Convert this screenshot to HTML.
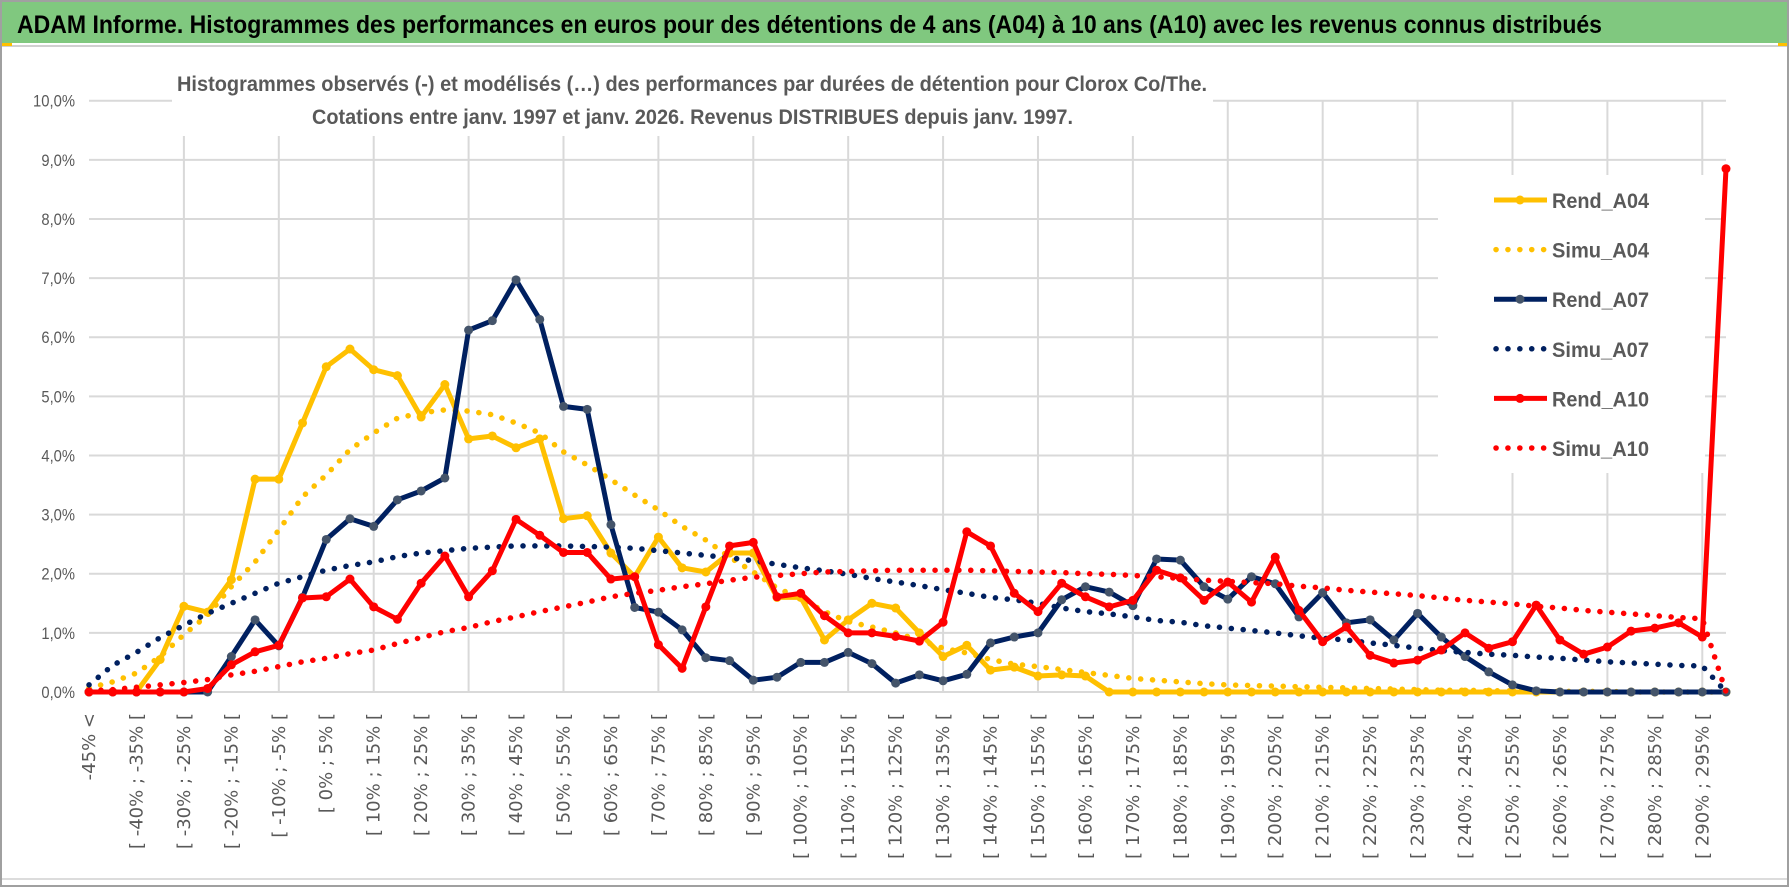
<!DOCTYPE html>
<html><head><meta charset="utf-8"><title>ADAM Informe - Clorox</title>
<style>
html,body{margin:0;padding:0;background:#fff;}
svg{display:block;font-family:"Liberation Sans",sans-serif;}
</style></head>
<body>
<svg id="chart" width="1790" height="888" viewBox="0 0 1790 888" xmlns="http://www.w3.org/2000/svg">
  <rect x="0" y="0" width="1790" height="888" fill="#ffffff"/>
  <rect x="1" y="1" width="1787" height="885" fill="none" stroke="#a0a0a0" stroke-width="2"/>
  <rect x="2" y="2" width="1785" height="41" fill="#80c87f"/>
  <line x1="2" y1="46" x2="1787" y2="46" stroke="#d0d0d0" stroke-width="2"/>
  <rect x="2" y="43" width="10" height="3" fill="#ffc000"/>
  <rect x="1778" y="43" width="9" height="3" fill="#ffc000"/>
  <line x1="2" y1="879" x2="1787" y2="879" stroke="#dcdcdc" stroke-width="2"/>
  <text x="17" y="33" font-size="25" font-weight="bold" fill="#000" textLength="1585" lengthAdjust="spacingAndGlyphs">ADAM Informe. Histogrammes des performances en euros pour des détentions de 4 ans (A04) à 10 ans (A10) avec les revenus connus distribués</text>
  <g id="grid"></g>
  <rect x="172" y="60" width="1041" height="76" fill="#fff"/>
  <text x="177" y="91" font-size="21" font-weight="bold" fill="#595959" textLength="1030" lengthAdjust="spacingAndGlyphs">Histogrammes observés (-) et modélisés (…) des performances par durées de détention pour Clorox Co/The.</text>
  <text x="312" y="124" font-size="21" font-weight="bold" fill="#595959" textLength="761" lengthAdjust="spacingAndGlyphs">Cotations entre janv. 1997 et janv. 2026. Revenus DISTRIBUES depuis janv. 1997.</text>
  <g id="yaxis"></g>
  <g id="xaxis"></g>
  <rect x="1438" y="175" width="267" height="298" fill="#fff"/>
  <g id="series"></g>
  <g id="legend"></g>
</svg>
<script>
const categories = ["-45% <","[ -45% ; -40% [","[ -40% ; -35% [","[ -35% ; -30% [","[ -30% ; -25% [","[ -25% ; -20% [","[ -20% ; -15% [","[ -15% ; -10% [","[ -10% ; -5% [","[ -5% ; 0% [",
"[ 0% ; 5% [","[ 5% ; 10% [","[ 10% ; 15% [","[ 15% ; 20% [","[ 20% ; 25% [","[ 25% ; 30% [","[ 30% ; 35% [","[ 35% ; 40% [","[ 40% ; 45% [","[ 45% ; 50% [",
"[ 50% ; 55% [","[ 55% ; 60% [","[ 60% ; 65% [","[ 65% ; 70% [","[ 70% ; 75% [","[ 75% ; 80% [","[ 80% ; 85% [","[ 85% ; 90% [","[ 90% ; 95% [","[ 95% ; 100% [",
"[ 100% ; 105% [","[ 105% ; 110% [","[ 110% ; 115% [","[ 115% ; 120% [","[ 120% ; 125% [","[ 125% ; 130% [","[ 130% ; 135% [","[ 135% ; 140% [","[ 140% ; 145% [","[ 145% ; 150% [",
"[ 150% ; 155% [","[ 155% ; 160% [","[ 160% ; 165% [","[ 165% ; 170% [","[ 170% ; 175% [","[ 175% ; 180% [","[ 180% ; 185% [","[ 185% ; 190% [","[ 190% ; 195% [","[ 195% ; 200% [",
"[ 200% ; 205% [","[ 205% ; 210% [","[ 210% ; 215% [","[ 215% ; 220% [","[ 220% ; 225% [","[ 225% ; 230% [","[ 230% ; 235% [","[ 235% ; 240% [","[ 240% ; 245% [","[ 245% ; 250% [",
"[ 250% ; 255% [","[ 255% ; 260% [","[ 260% ; 265% [","[ 265% ; 270% [","[ 270% ; 275% [","[ 275% ; 280% [","[ 280% ; 285% [","[ 285% ; 290% [","[ 290% ; 295% [","[ 295% ; 300% ["];
const yTicks = [0,1,2,3,4,5,6,7,8,9,10];
const yTickLabels = ["0,0%","1,0%","2,0%","3,0%","4,0%","5,0%","6,0%","7,0%","8,0%","9,0%","10,0%"];
const rendA04 = [0,0,0,0.55,1.45,1.35,1.9,3.6,3.6,4.55,5.5,5.8,5.45,5.35,4.65,5.2,4.28,4.33,4.13,4.28,2.93,2.98,2.35,1.95,2.62,2.1,2.03,2.35,2.35,1.6,1.6,0.88,1.22,1.5,1.42,1.0,0.6,0.79,0.37,0.42,0.27,0.29,0.27,0,0,0,0,0,0,0,0,0,0,0,0,0,0,0,0,0,0,0,0,0,0,0,0,0,0,0];
const simuA04 = [0.07,0.17,0.32,0.6,0.97,1.3,1.78,2.2,2.74,3.3,3.67,4.1,4.38,4.63,4.72,4.77,4.75,4.69,4.55,4.38,4.06,3.84,3.59,3.33,3.08,2.8,2.57,2.28,2.03,1.76,1.58,1.36,1.19,1.1,1.0,0.88,0.74,0.66,0.55,0.47,0.43,0.38,0.33,0.28,0.23,0.2,0.17,0.14,0.12,0.11,0.1,0.09,0.08,0.07,0.06,0.05,0.04,0.03,0.03,0.02,0.02,0.01,0.01,0.01,0.01,0,0,0,0,0];
const rendA07 = [0,0,0,0,0,0,0.6,1.22,0.78,1.6,2.58,2.93,2.8,3.25,3.4,3.62,6.12,6.28,6.97,6.3,4.83,4.78,2.83,1.43,1.35,1.05,0.58,0.53,0.2,0.25,0.5,0.5,0.67,0.48,0.15,0.29,0.19,0.3,0.83,0.93,1.0,1.56,1.78,1.69,1.46,2.25,2.23,1.78,1.57,1.95,1.83,1.27,1.68,1.17,1.22,0.88,1.33,0.93,0.6,0.34,0.12,0.02,0,0,0,0,0,0,0,0];
const simuA07 = [0.12,0.45,0.67,0.92,1.13,1.33,1.5,1.67,1.84,1.95,2.06,2.14,2.2,2.29,2.35,2.39,2.43,2.45,2.47,2.47,2.47,2.46,2.45,2.43,2.39,2.35,2.31,2.27,2.22,2.16,2.1,2.05,1.99,1.92,1.86,1.8,1.73,1.67,1.6,1.56,1.5,1.42,1.36,1.32,1.27,1.21,1.18,1.12,1.08,1.04,1.0,0.95,0.91,0.88,0.83,0.79,0.74,0.7,0.67,0.64,0.62,0.59,0.57,0.54,0.51,0.49,0.47,0.45,0.44,0];
const rendA10 = [0,0,0,0,0,0.06,0.46,0.68,0.79,1.59,1.61,1.91,1.44,1.23,1.84,2.3,1.61,2.05,2.92,2.65,2.36,2.36,1.91,1.95,0.8,0.4,1.44,2.47,2.53,1.61,1.67,1.29,1.0,1.0,0.94,0.86,1.18,2.71,2.47,1.67,1.36,1.84,1.61,1.44,1.55,2.06,1.93,1.55,1.86,1.52,2.28,1.38,0.85,1.1,0.62,0.49,0.54,0.71,1.0,0.74,0.85,1.47,0.88,0.64,0.76,1.03,1.08,1.17,0.93,8.85];
const simuA10 = [0.02,0.04,0.08,0.12,0.16,0.21,0.29,0.35,0.43,0.51,0.57,0.65,0.71,0.82,0.92,1.02,1.09,1.19,1.27,1.36,1.44,1.52,1.61,1.67,1.72,1.78,1.83,1.89,1.94,1.97,2.0,2.03,2.04,2.05,2.06,2.06,2.06,2.06,2.05,2.04,2.03,2.02,2.0,1.99,1.97,1.95,1.92,1.89,1.87,1.85,1.83,1.79,1.76,1.72,1.69,1.66,1.63,1.59,1.55,1.52,1.49,1.45,1.42,1.38,1.35,1.32,1.29,1.26,1.24,0];
const seriesNames = ["Rend_A04","Simu_A04","Rend_A07","Simu_A07","Rend_A10","Simu_A10"];

const NS = "http://www.w3.org/2000/svg";
const X0 = 89, X1 = 1726, Y0 = 692, YTOP = 100.7, YMAX = 10;
function xPos(i){ return X0 + i * (X1 - X0) / (categories.length - 1); }
function yPos(v){ return Y0 - v * (Y0 - YTOP) / YMAX; }
function mk(tag, attrs, parent){ const e = document.createElementNS(NS, tag); for (const k in attrs) e.setAttribute(k, attrs[k]); parent.appendChild(e); return e; }

const grid = document.getElementById('grid');
yTicks.forEach(function(t){
  if (t === 0) return;
  const l = mk('line', {x1: X0, x2: X1, y1: yPos(t), y2: yPos(t), stroke: '#d9d9d9', 'stroke-width': 2}, grid);
  
  
});
for (let i = 4; i < categories.length; i += 4) {
  const l = mk('line', {x1: xPos(i), x2: xPos(i), y1: YTOP, y2: Y0, stroke: '#d9d9d9', 'stroke-width': 2}, grid);
  
  
}
const base = mk('line', {x1: X0, x2: X1, y1: Y0, y2: Y0, stroke: '#d9d9d9', 'stroke-width': 2}, grid);



const yax = document.getElementById('yaxis');
yTicks.forEach(function(t, k){
  const lab = yTickLabels[k];
  const tx = mk('text', {x: 75, y: yPos(t) + 6, 'font-size': 17, fill: '#595959', 'text-anchor': 'end', textLength: lab.length * 8.4, lengthAdjust: 'spacingAndGlyphs'}, yax);
  tx.textContent = lab;
  
  
});

const xax = document.getElementById('xaxis');
categories.forEach(function(c, i){
  if (i % 2 !== 0) return;
  const x = xPos(i) + 6;
  const tx = mk('text', {x: x, y: 713, 'font-size': 18, fill: '#595959', 'text-anchor': 'end', 'font-family': '"DejaVu Sans", sans-serif', transform: 'rotate(-90 ' + x + ' 713)'}, xax);
  tx.textContent = c;
  
  
});

const series = document.getElementById('series');
function pts(arr){ return arr.map(function(v, i){ return xPos(i).toFixed(1) + ',' + yPos(v).toFixed(1); }).join(' '); }
function drawRend(arr, color, marker, name){
  const g = mk('g', {}, series);
  
  
  const p = mk('polyline', {points: pts(arr), fill: 'none', stroke: color, 'stroke-width': 5, 'stroke-linejoin': 'round'}, g);
  
  
  arr.forEach(function(v, i){
    const c = mk('circle', {cx: xPos(i), cy: yPos(v), r: 4.5, fill: marker}, g);
    
    
  });
}
function drawSimu(arr, color, name){
  const p = mk('polyline', {points: pts(arr), fill: 'none', stroke: color, 'stroke-width': 5.5, 'stroke-linecap': 'round', 'stroke-dasharray': '0.1 11.8'}, series);
  
  
}
drawRend(rendA04, '#ffc000', '#ffc000', 'rend-a04-series');
drawSimu(simuA04, '#ffc000', 'simu-a04-series');
drawRend(rendA07, '#002060', '#44546a', 'rend-a07-series');
drawSimu(simuA07, '#002060', 'simu-a07-series');
drawRend(rendA10, '#ff0000', '#ff0000', 'rend-a10-series');
drawSimu(simuA10, '#ff0000', 'simu-a10-series');

const legend = document.getElementById('legend');
const legColors = ['#ffc000','#ffc000','#002060','#002060','#ff0000','#ff0000'];
const legMarkers = ['#ffc000', null, '#44546a', null, '#ff0000', null];
seriesNames.forEach(function(n, k){
  const cy = 200 + k * 49.6;
  const g = mk('g', {}, legend);
  
  
  if (legMarkers[k]) {
    mk('line', {x1: 1494, x2: 1547, y1: cy, y2: cy, stroke: legColors[k], 'stroke-width': 5}, g);
    mk('circle', {cx: 1520, cy: cy, r: 4.5, fill: legMarkers[k]}, g);
  } else {
    mk('line', {x1: 1496, x2: 1547, y1: cy, y2: cy, stroke: legColors[k], 'stroke-width': 5.5, 'stroke-linecap': 'round', 'stroke-dasharray': '0.1 11.8'}, g);
  }
  const t = mk('text', {x: 1552, y: cy + 8, 'font-size': 21, 'font-weight': 'bold', fill: '#595959', textLength: 97, lengthAdjust: 'spacingAndGlyphs'}, g);
  t.textContent = n;
});
</script>
</body></html>
